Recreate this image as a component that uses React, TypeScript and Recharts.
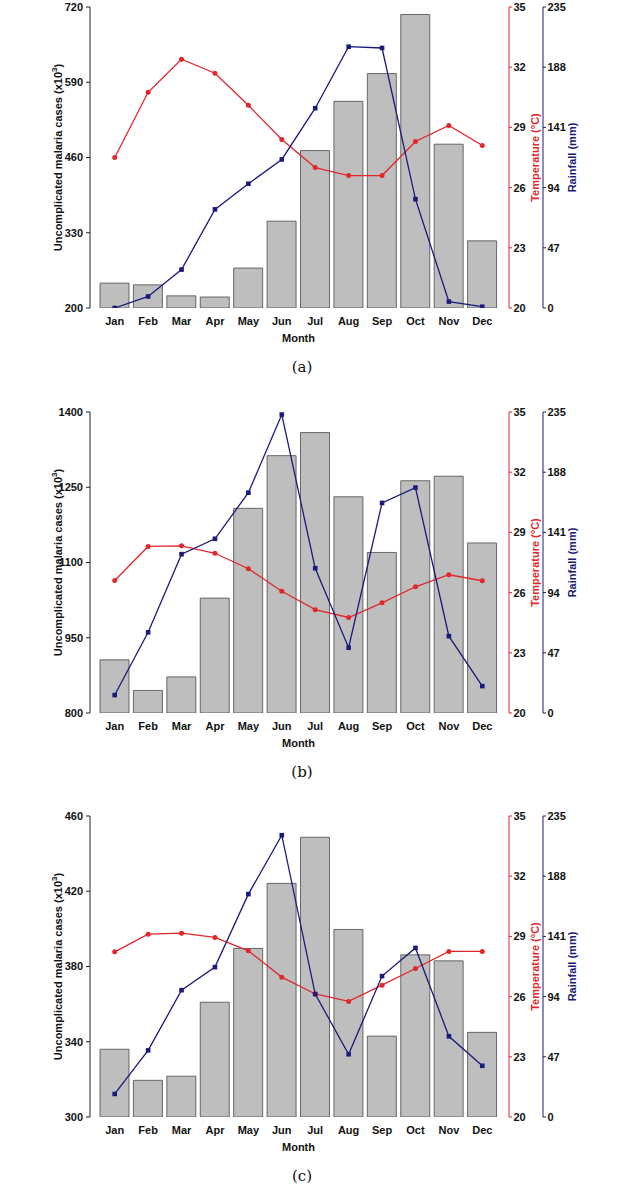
import React from 'react';
import { Bar, ComposedChart, Line, XAxis, YAxis } from 'recharts';

const MONTHS = ['Jan', 'Feb', 'Mar', 'Apr', 'May', 'Jun', 'Jul', 'Aug', 'Sep', 'Oct', 'Nov', 'Dec'];

// panel (a)
const CASES_A = [243, 240, 221, 219, 269, 350, 472, 557, 605, 707, 483, 316];
const TEMP_A = [27.5, 30.75, 32.4, 31.7, 30.1, 28.4, 27.0, 26.6, 26.6, 28.3, 29.1, 28.1];
const RAIN_A = [0, 9, 30, 77, 97, 116, 156, 204, 203, 85, 5, 1];
const CASE_TICKS_A = [200, 330, 460, 590, 720];

// panel (b)
const CASES_B = [906, 845, 872, 1029, 1208, 1313, 1359, 1231, 1120, 1263, 1272, 1139];
const TEMP_B = [26.6, 28.3, 28.33, 27.96, 27.19, 26.07, 25.15, 24.76, 25.49, 26.29, 26.89, 26.59];
const RAIN_B = [14, 63, 124, 136, 172, 233, 113, 51, 164, 176, 60, 21];
const CASE_TICKS_B = [800, 950, 1100, 1250, 1400];

// panel (c)
const CASES_C = [336, 319.5, 321.7, 361, 389.6, 424.2, 448.7, 399.7, 343, 386.2, 383, 345];
const TEMP_C = [28.23, 29.11, 29.16, 28.95, 28.28, 26.97, 26.13, 25.76, 26.57, 27.4, 28.25, 28.25];
const RAIN_C = [18, 52, 99, 117, 174, 220, 96, 49, 110, 132, 63, 40];
const CASE_TICKS_C = [300, 340, 380, 420, 460];

const TEMP_TICKS = [20, 23, 26, 29, 32, 35];
const RAIN_TICKS = [0, 47, 94, 141, 188, 235];

const RED = '#e1262c';
const NAVY = '#1a1a7c';
const FONT = '"Liberation Sans", Arial, sans-serif';
const tickStyle = { fill: '#111', fontSize: 11, fontWeight: 700, fontFamily: FONT };

function axisTitle(text: React.ReactNode, dx: number, color: string) {
  return {
    content: (p: any) => {
      const vb = p?.viewBox ?? { x: 0, y: 7, width: 0, height: 301 };
      const x = vb.x + dx;
      const y = vb.y + vb.height / 2;
      return (
        <text
          x={x}
          y={y}
          transform={`rotate(-90 ${x} ${y})`}
          textAnchor="middle"
          dominantBaseline="central"
          fill={color}
          fontSize={11}
          fontWeight={700}
          fontFamily={FONT}
        >
          {text}
        </text>
      );
    },
  };
}

const CASES_TITLE = (
  <>
    Uncomplicated malaria cases (x10
    <tspan dy={-4} fontSize={8}>3</tspan>
    <tspan dy={4}>)</tspan>
  </>
);

const SquareDot = (props: any) => {
  const { cx, cy, index } = props;
  if (cx == null || cy == null) return <g key={`sq-${index}`} />;
  return <rect key={`sq-${index}`} x={cx - 2.3} y={cy - 2.3} width={4.6} height={4.6} fill={NAVY} />;
};

const Panel: React.FC<{
  cases: number[];
  temp: number[];
  rain: number[];
  caseTicks: number[];
  caption: string;
  top: number;
}> = ({ cases, temp, rain, caseTicks, caption, top }) => {
  const rows = MONTHS.map((m, i) => ({ month: m, cases: cases[i], temp: temp[i], rain: rain[i] }));
  const lo = caseTicks[0];
  const hi = caseTicks[caseTicks.length - 1];

  return (
    <div style={{ position: 'absolute', left: 0, top, width: 628, height: 400 }}>
      <ComposedChart width={628} height={345} data={rows} margin={{ top: 7, right: 40, bottom: 0, left: 0 }}>
        <XAxis
          dataKey="month"
          xAxisId="m"
          height={37}
          padding={{ left: 8, right: 10 }}
          axisLine={false}
          tickLine={false}
          tickSize={7}
          tickMargin={2}
          tick={tickStyle}
          interval={0}
          label={{
            content: (p: any) => {
              const vb = p?.viewBox ?? { x: 90, y: 308, width: 419, height: 37 };
              return (
                <text
                  x={vb.x + vb.width / 2 - 1}
                  y={vb.y + 34}
                  textAnchor="middle"
                  fill="#111"
                  fontSize={11}
                  fontWeight={700}
                  fontFamily={FONT}
                >
                  Month
                </text>
              );
            },
          }}
        />
        <YAxis
          yAxisId="left"
          width={90}
          domain={[lo, hi]}
          ticks={caseTicks}
          allowDataOverflow
          tickSize={4}
          tickMargin={3}
          tick={tickStyle}
          stroke="#222"
          label={axisTitle(CASES_TITLE, 58, '#111')}
        />
        <YAxis
          yAxisId="a"
          orientation="right"
          width={34}
          domain={[20, 35]}
          ticks={TEMP_TICKS}
          allowDataOverflow
          tickSize={3}
          tickMargin={1.5}
          tick={tickStyle}
          stroke={RED}
          label={axisTitle('Temperature (°C)', 26, RED)}
        />
        <YAxis
          yAxisId="b"
          orientation="right"
          width={45}
          domain={[0, 235]}
          ticks={RAIN_TICKS}
          allowDataOverflow
          tickSize={3}
          tickMargin={1.5}
          tick={tickStyle}
          stroke={NAVY}
          label={axisTitle('Rainfall (mm)', 29, NAVY)}
        />
        <Bar
          xAxisId="m"
          yAxisId="left"
          dataKey="cases"
          barSize={29}
          fill="#bebebe"
          stroke="#4a4a4a"
          strokeWidth={0.8}
          isAnimationActive={false}
        />
        <Line
          xAxisId="m"
          yAxisId="a"
          type="linear"
          dataKey="temp"
          stroke={RED}
          strokeWidth={1.3}
          dot={{ r: 2.5, fill: RED, stroke: RED, strokeWidth: 0 }}
          activeDot={false}
          isAnimationActive={false}
        />
        <Line
          xAxisId="m"
          yAxisId="b"
          type="linear"
          dataKey="rain"
          stroke={NAVY}
          strokeWidth={1.3}
          dot={SquareDot}
          activeDot={false}
          isAnimationActive={false}
        />
      </ComposedChart>
      <div
        style={{
          position: 'absolute',
          left: 252,
          width: 100,
          top: 358,
          textAlign: 'center',
          fontFamily: '"DejaVu Serif", serif',
          fontSize: 15,
          color: '#111',
        }}
      >
        {caption}
      </div>
    </div>
  );
};

export default function App() {
  return (
    <div style={{ position: 'absolute', left: 0, top: 0, width: 628, height: 1195, background: '#fff' }}>
      <Panel cases={CASES_A} temp={TEMP_A} rain={RAIN_A} caseTicks={CASE_TICKS_A} caption="(a)" top={0} />
      <Panel cases={CASES_B} temp={TEMP_B} rain={RAIN_B} caseTicks={CASE_TICKS_B} caption="(b)" top={404.7} />
      <Panel cases={CASES_C} temp={TEMP_C} rain={RAIN_C} caseTicks={CASE_TICKS_C} caption="(c)" top={809} />
    </div>
  );
}
